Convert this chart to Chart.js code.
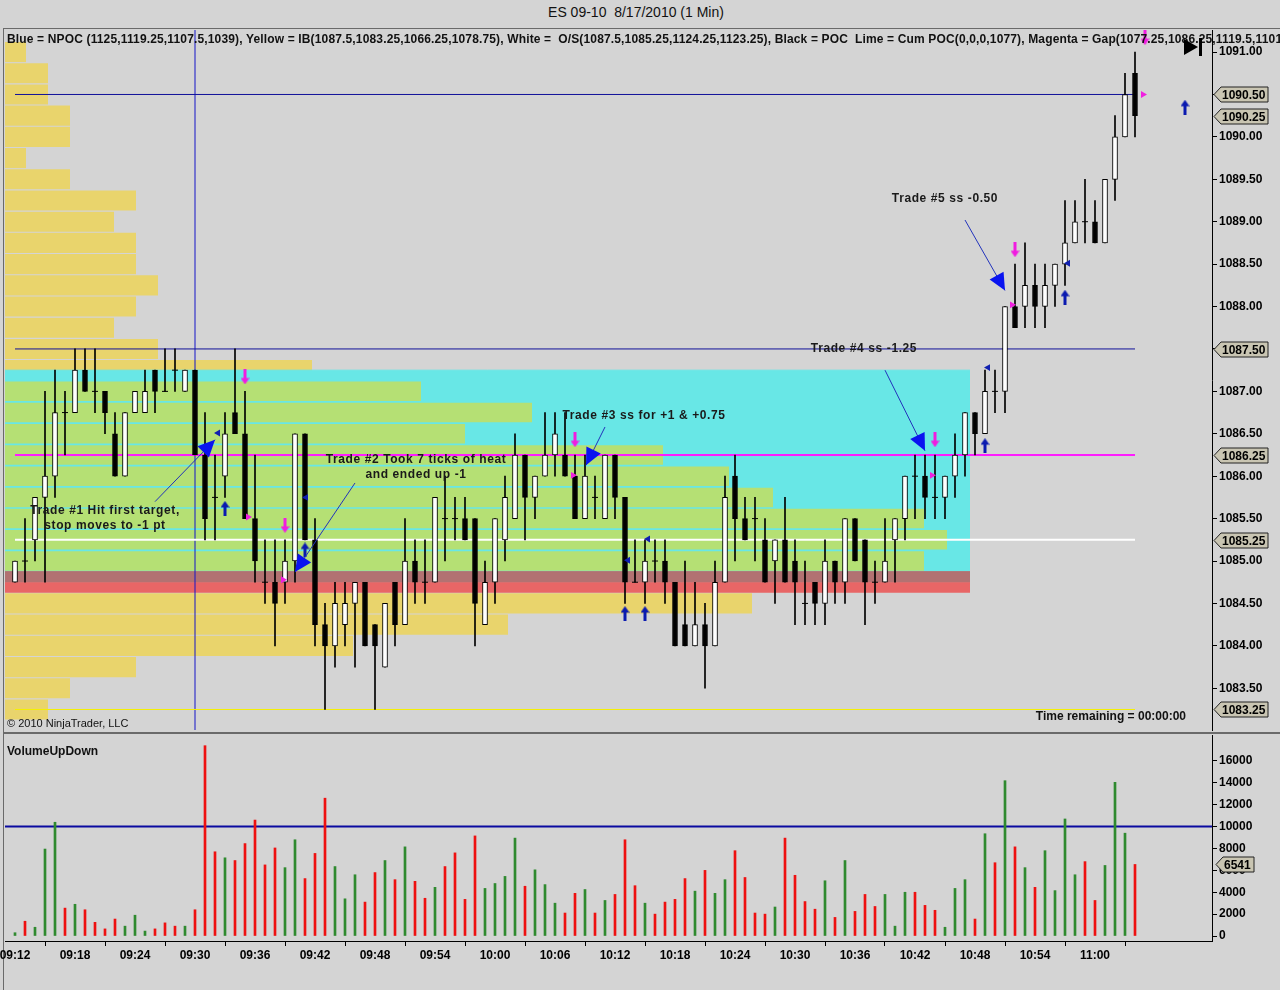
<!DOCTYPE html>
<html>
<head>
<meta charset="utf-8">
<title>ES 09-10 8/17/2010 (1 Min)</title>
<script src="https://cdn.jsdelivr.net/npm/chart.js@4.4.1/dist/chart.umd.min.js"></script>
<style>
  body { margin: 0; background: #d4d4d4; font-family: 'Liberation Sans', Arial, sans-serif; }
  #page { position: relative; width: 1280px; height: 990px; overflow: hidden; background: #d4d4d4; }
  #title { position: absolute; top: 4px; left: 0; width: 1272px; text-align: center; font-size: 14px; color: #111; white-space: pre; }
  .line { position: absolute; background: #6a6a6a; }
  #pricePanel { position: absolute; left: -10px; top: 15px; }
  #volumePanel { position: absolute; left: -10px; top: 720px; }
  #legendText { position: absolute; left: 7px; top: 33px; width: 1273px; overflow: hidden; white-space: pre; font-weight: bold; font-size: 12px; line-height: 13px; letter-spacing: 0.15px; color: #111; }
  #copyright { position: absolute; left: 7px; top: 717px; font-size: 11px; color: #111; }
  #timeLeft { position: absolute; right: 94px; top: 709px; font-size: 12px; font-weight: bold; color: #111; }
  #volTitle { position: absolute; left: 7px; top: 744px; font-size: 12px; font-weight: bold; color: #111; }
  #playIcon { position: absolute; left: 1184px; top: 39px; width: 0; height: 0; border-top: 8px solid transparent; border-bottom: 8px solid transparent; border-left: 14px solid #000; }
  #playBar { position: absolute; left: 1199px; top: 38px; width: 3px; height: 18px; background: #000; }
</style>
</head>
<body>
<div id="page">
  <div id="title">ES 09-10  8/17/2010 (1 Min)</div>
  <div class="line" style="left:4px;top:28px;width:1276px;height:1px;"></div>
  <div class="line" style="left:3px;top:28px;width:1px;height:962px;"></div>
  <div class="line" style="left:4px;top:732px;width:1276px;height:2px;"></div>
  <canvas id="pricePanel" width="1290" height="730"></canvas>
  <canvas id="volumePanel" width="1290" height="270"></canvas>
  <div id="legendText">Blue = NPOC (1125,1119.25,1107.5,1039), Yellow = IB(1087.5,1083.25,1066.25,1078.75), White =  O/S(1087.5,1085.25,1124.25,1123.25), Black = POC  Lime = Cum POC(0,0,0,1077), Magenta = Gap(1077.25,1086.25,1119.5,1101</div>
  <div id="playIcon"></div><div id="playBar"></div>
  <div id="copyright">© 2010 NinjaTrader, LLC</div>
  <div id="timeLeft">Time remaining = 00:00:00</div>
  <div id="volTitle">VolumeUpDown</div>
</div>
<script>
// 1 minute bars, 09:12 .. 11:04
const barOpen = [
  1084.75, 1085.0, 1085.25, 1085.75, 1086.0, 1086.75, 1086.75, 1087.25, 1087.0, 1087.0,
  1086.5, 1086.0, 1086.75, 1086.75, 1087.25, 1087.0, 1087.25, 1087.0, 1087.25, 1086.25,
  1085.75, 1086.0, 1086.75, 1086.5, 1085.5, 1084.75, 1084.75, 1084.75, 1085.0, 1086.5,
  1085.25, 1084.25, 1084.0, 1084.25, 1084.5, 1084.75, 1084.25, 1083.75, 1084.75, 1084.25,
  1085.0, 1084.75, 1084.75, 1085.5, 1085.5, 1085.5, 1085.5, 1084.25, 1084.75, 1085.25,
  1085.5, 1086.25, 1085.75, 1086.0, 1086.25, 1086.25, 1086.0, 1085.5, 1085.75, 1085.5,
  1086.25, 1085.75, 1084.75, 1084.75, 1085.0, 1085.0, 1084.75, 1084.25, 1084.0, 1084.25,
  1084.0, 1084.75, 1086.0, 1085.5, 1085.5, 1085.25, 1085.0, 1085.25, 1085.0, 1084.5,
  1084.75, 1084.5, 1085.0, 1084.75, 1085.5, 1085.25, 1084.75, 1084.75, 1085.25, 1085.5,
  1086.0, 1086.0, 1085.75, 1085.75, 1086.0, 1086.25, 1086.75, 1086.5, 1087.0, 1087.0,
  1088.0, 1088.0, 1088.25, 1088.0, 1088.25, 1088.5, 1088.75, 1089.0, 1089.0, 1088.75,
  1089.5, 1090.0, 1090.75
];
const barHigh = [
  1085.0, 1085.5, 1085.75, 1087.0, 1087.25, 1087.0, 1087.5, 1087.5, 1087.5, 1087.0,
  1086.75, 1086.75, 1087.0, 1087.25, 1087.25, 1087.5, 1087.5, 1087.25, 1087.25, 1086.75,
  1086.25, 1086.75, 1087.5, 1087.0, 1086.25, 1085.25, 1085.25, 1085.25, 1086.5, 1086.5,
  1085.5, 1084.5, 1084.75, 1084.75, 1084.75, 1084.75, 1084.25, 1084.5, 1084.75, 1085.5,
  1085.25, 1085.25, 1085.75, 1086.0, 1085.75, 1085.75, 1085.5, 1085.0, 1085.5, 1086.0,
  1086.5, 1086.25, 1086.0, 1086.75, 1086.75, 1086.75, 1086.25, 1086.25, 1086.0, 1086.25,
  1086.25, 1085.75, 1085.25, 1085.25, 1085.25, 1085.25, 1084.75, 1085.0, 1084.75, 1084.5,
  1085.0, 1086.0, 1086.25, 1085.75, 1085.75, 1085.5, 1085.25, 1085.75, 1085.25, 1085.0,
  1084.75, 1085.25, 1085.0, 1085.5, 1085.5, 1085.25, 1085.0, 1085.5, 1085.5, 1086.0,
  1086.25, 1086.25, 1086.25, 1086.0, 1086.5, 1086.75, 1086.75, 1087.25, 1087.25, 1088.0,
  1088.5, 1088.75, 1088.5, 1088.5, 1088.5, 1089.25, 1089.25, 1089.5, 1089.25, 1089.5,
  1090.25, 1090.75, 1091.0
];
const barLow = [
  1084.75, 1084.75, 1085.0, 1084.75, 1085.75, 1086.25, 1086.75, 1087.0, 1086.75, 1086.5,
  1086.0, 1086.0, 1086.75, 1086.75, 1086.75, 1087.0, 1087.0, 1087.0, 1086.25, 1085.25,
  1085.25, 1085.75, 1086.5, 1085.5, 1084.75, 1084.5, 1084.0, 1084.5, 1084.75, 1085.25,
  1084.0, 1083.25, 1083.75, 1084.0, 1083.75, 1084.0, 1083.25, 1083.75, 1084.0, 1084.25,
  1084.5, 1084.5, 1084.75, 1085.0, 1085.25, 1085.25, 1084.0, 1084.25, 1084.5, 1085.0,
  1085.5, 1085.25, 1085.5, 1086.0, 1086.0, 1086.0, 1085.5, 1085.5, 1085.5, 1085.5,
  1085.5, 1084.5, 1084.75, 1084.5, 1084.75, 1084.5, 1084.0, 1084.0, 1084.0, 1083.5,
  1084.0, 1084.75, 1085.0, 1085.25, 1085.0, 1084.75, 1084.5, 1084.75, 1084.25, 1084.25,
  1084.25, 1084.25, 1084.5, 1084.5, 1085.0, 1084.25, 1084.5, 1084.75, 1084.75, 1085.25,
  1085.5, 1085.5, 1085.5, 1085.5, 1085.75, 1086.0, 1086.25, 1086.5, 1086.75, 1086.75,
  1087.75, 1087.75, 1087.75, 1087.75, 1088.0, 1088.25, 1088.75, 1088.75, 1088.75, 1088.75,
  1089.25, 1090.0, 1090.0
];
const barClose = [
  1085.0, 1085.0, 1085.75, 1086.0, 1086.75, 1086.75, 1087.25, 1087.0, 1087.0, 1086.75,
  1086.0, 1086.75, 1087.0, 1087.0, 1087.0, 1087.0, 1087.25, 1087.25, 1086.25, 1085.5,
  1085.75, 1086.5, 1086.5, 1085.5, 1085.0, 1084.75, 1084.5, 1085.0, 1086.5, 1085.25,
  1084.25, 1084.0, 1084.5, 1084.5, 1084.75, 1084.0, 1084.0, 1084.5, 1084.25, 1085.0,
  1084.75, 1084.75, 1085.75, 1085.5, 1085.5, 1085.25, 1084.5, 1084.75, 1085.5, 1085.75,
  1086.25, 1085.75, 1086.0, 1086.25, 1086.5, 1086.0, 1085.5, 1086.0, 1085.75, 1086.25,
  1085.75, 1084.75, 1084.75, 1085.0, 1085.0, 1084.75, 1084.0, 1084.0, 1084.25, 1084.0,
  1084.75, 1085.75, 1085.5, 1085.25, 1085.5, 1084.75, 1085.25, 1084.75, 1084.75, 1084.5,
  1084.5, 1085.0, 1084.75, 1085.5, 1085.0, 1084.75, 1084.75, 1085.0, 1085.5, 1086.0,
  1086.0, 1085.75, 1085.75, 1086.0, 1086.25, 1086.75, 1086.5, 1087.0, 1087.0, 1088.0,
  1087.75, 1088.25, 1088.0, 1088.25, 1088.5, 1088.75, 1089.0, 1089.0, 1088.75, 1089.5,
  1090.0, 1090.5, 1090.25
];
const barVolume = [
  300, 1350, 800, 7950, 10400, 2550, 2900, 2400, 1250, 650,
  1550, 900, 1900, 450, 650, 1200, 900, 900, 2400, 17400,
  7700, 7150, 6900, 8450, 10600, 6500, 8050, 6250, 8800, 5250,
  7550, 12600, 6350, 3400, 5600, 3100, 5800, 6900, 5150, 8150,
  5000, 3450, 4450, 6350, 7600, 3350, 9150, 4350, 4800, 5450,
  8950, 4550, 6050, 4700, 3000, 2100, 3900, 4250, 2100, 3250,
  3800, 8800, 4600, 3000, 2000, 3100, 3350, 5250, 4100, 6000,
  3900, 5150, 7800, 5350, 2100, 2000, 2650, 8950, 5550, 3150,
  2450, 5050, 1700, 6900, 2250, 3800, 2700, 3800, 900, 4000,
  4000, 2800, 2350, 800, 4350, 5150, 1550, 9350, 6700, 14200,
  8150, 6250, 4450, 7800, 4150, 10700, 5600, 6800, 3250, 6450,
  14050, 9400, 6541
];

const xTickBars = [0, 6, 12, 18, 24, 30, 36, 42, 48, 54, 60, 66, 72, 78, 84, 90, 96, 102, 108];
const xTickLabels = ['09:12', '09:18', '09:24', '09:30', '09:36', '09:42', '09:48', '09:54', '10:00', '10:06',
  '10:12', '10:18', '10:24', '10:30', '10:36', '10:42', '10:48', '10:54', '11:00'];
const priceTicks = [1083.5, 1084, 1084.5, 1085, 1085.5, 1086, 1086.5, 1087, 1087.5, 1088, 1088.5, 1089, 1089.5, 1090, 1090.5, 1091];
const volumeTicks = [0, 2000, 4000, 6000, 8000, 10000, 12000, 14000, 16000];

// volume profile rows (left histogram)
const yellowLevels = [1091, 1090.75, 1090.5, 1090.25, 1090, 1089.75, 1089.5, 1089.25, 1089, 1088.75, 1088.5,
  1088.25, 1088, 1087.75, 1087.5, 1087.25, 1084.5, 1084.25, 1084, 1083.75, 1083.5, 1083.25];
const yellowVolume = [21, 43, 43, 65, 65, 21, 65, 131, 109, 131, 131, 153, 131, 109, 153, 307, 747, 503, 348, 131, 65, 43];
const limeLevels = [1087, 1086.75, 1086.5, 1086.25, 1086, 1085.75, 1085.5, 1085.25, 1085];
const limeVolume = [416, 527, 460, 658, 724, 768, 919, 942, 919];

// shaded zones: [fromBar, toBar, topPrice, bottomPrice]
const valueZone = [-1, 95.5, 1087.25, 1084.875];
const gapZoneUpper = [-1, 95.5, 1084.875, 1084.75];
const gapZoneLower = [-1, 95.5, 1084.75, 1084.625];

// horizontal levels: NPOC, IB high, gap, O/S, IB low
const levelPrices = [1090.5, 1087.5, 1086.25, 1085.25, 1083.25];
const sessionOpenBar = 18;
const volumeLevel = 10000;

// trade markers
const buyArrowBars = [21, 29, 61, 63, 97, 105, 117];
const buyArrowPrices = [1085.62, 1085.13, 1084.38, 1084.38, 1086.36, 1088.11, 1090.35];
const sellArrowBars = [23, 27, 56, 92, 100, 113];
const sellArrowPrices = [1087.17, 1085.42, 1086.43, 1086.43, 1088.67, 1091.17];
const stopMarkBars = [20.3, 29.1, 61.3, 63.3, 97.3, 105.3];
const stopMarkPrices = [1086.51, 1085.75, 1085.01, 1085.26, 1087.28, 1088.51];
const exitMarkBars = [23.3, 26.8, 55.8, 91.7, 99.7, 112.8];
const exitMarkPrices = [1085.52, 1084.78, 1086.01, 1086.01, 1088.02, 1090.5];

// trade notes: text centre, arrow start, arrow tip as [bar, price]
const noteLines = [
  ['Trade #1 Hit first target,', 'stop moves to -1 pt'],
  ['Trade #2 Took 7 ticks of heat', 'and ended up -1'],
  ['Trade #3 ss for +1 & +0.75'],
  ['Trade #4 ss -1.25'],
  ['Trade #5 ss -0.50']
];
const noteAt = [[9, 1085.59], [40.1, 1086.19], [62.9, 1086.71], [84.9, 1087.5], [93, 1089.27]];
const noteArrowFrom = [[14, 1085.70], [34, 1085.92], [59, 1086.58], [87, 1087.25], [95, 1089.02]];
const noteArrowTo = [[20, 1086.43], [28, 1084.87], [57.1, 1086.13], [91, 1086.30], [99, 1088.19]];

Chart.defaults.font.family = "'Liberation Sans', Arial, sans-serif";
Chart.defaults.font.size = 12;
Chart.defaults.color = '#000';

const priceMin = 1083.008, priceMax = 1091.26;
const barMin = -1, barMax = 119.7;
const lastBar = barOpen.length - 1;
const isUp = i => barClose[i] > barOpen[i];

function arrowGlyph(color, up) {
  const c = document.createElement('canvas');
  c.width = 9; c.height = 15;
  const g = c.getContext('2d');
  g.fillStyle = color;
  if (!up) { g.translate(0, 15); g.scale(1, -1); }
  g.beginPath(); g.moveTo(4.5, 0); g.lineTo(9, 6.5); g.lineTo(0, 6.5); g.closePath(); g.fill();
  g.fillRect(3, 6, 3, 9);
  return c;
}

function drawTag(ctx, left, py, w, text) {
  ctx.beginPath();
  ctx.moveTo(left + 1, py);
  ctx.lineTo(left + 8, py - 7.5);
  ctx.lineTo(left + w, py - 7.5);
  ctx.lineTo(left + w, py + 7.5);
  ctx.lineTo(left + 8, py + 7.5);
  ctx.closePath();
  ctx.fillStyle = '#c9c5b2';
  ctx.fill();
  ctx.strokeStyle = '#222';
  ctx.lineWidth = 1;
  ctx.stroke();
  ctx.fillStyle = '#000';
  ctx.font = "bold 12px 'Liberation Sans', Arial";
  ctx.textAlign = 'left';
  ctx.textBaseline = 'middle';
  ctx.fillText(text, left + 9, py + 1);
}

function zoneDataset(zone, color, order) {
  return {
    type: 'line', order: order,
    data: [{ x: zone[0], y: zone[2] }, { x: zone[1], y: zone[2] }],
    fill: { value: zone[3] }, backgroundColor: color, borderColor: color, borderWidth: 1, pointRadius: 0
  };
}

function levelDataset(price, color, width) {
  return {
    type: 'line', order: 15,
    data: [{ x: 0, y: price }, { x: lastBar, y: price }],
    borderColor: color, borderWidth: width, pointRadius: 0, fill: false
  };
}

const noFit = w => scale => { scale.width = w; scale.paddingTop = 0; scale.paddingBottom = 0; };

const tradeNotes = {
  id: 'tradeNotes',
  afterDatasetsDraw(chart) {
    const { ctx, scales: { x, y } } = chart;
    ctx.save();
    noteArrowFrom.forEach((from, k) => {
      const x1 = x.getPixelForValue(from[0]), y1 = y.getPixelForValue(from[1]);
      const x2 = x.getPixelForValue(noteArrowTo[k][0]), y2 = y.getPixelForValue(noteArrowTo[k][1]);
      ctx.strokeStyle = '#2233bb';
      ctx.lineWidth = 1;
      ctx.beginPath(); ctx.moveTo(x1, y1); ctx.lineTo(x2, y2); ctx.stroke();
      const a = Math.atan2(y2 - y1, x2 - x1);
      const bx = x2 - Math.cos(a) * 17, by = y2 - Math.sin(a) * 17;
      ctx.fillStyle = '#0a14f0';
      ctx.beginPath();
      ctx.moveTo(x2, y2);
      ctx.lineTo(bx - Math.sin(a) * 8, by + Math.cos(a) * 8);
      ctx.lineTo(bx + Math.sin(a) * 8, by - Math.cos(a) * 8);
      ctx.closePath(); ctx.fill();
    });
    ctx.font = "bold 12px 'Liberation Sans', Arial";
    ctx.letterSpacing = '0.6px';
    ctx.fillStyle = '#1a1a1a';
    ctx.textAlign = 'center';
    ctx.textBaseline = 'middle';
    noteLines.forEach((lines, k) => {
      const cx = x.getPixelForValue(noteAt[k][0]), cy = y.getPixelForValue(noteAt[k][1]);
      lines.forEach((t, j) => ctx.fillText(t, cx, cy + j * 15));
    });
    ctx.restore();
  },
  afterDraw(chart) {
    const { ctx, scales: { y } } = chart;
    ctx.save();
    [levelPrices[0], barClose[lastBar], levelPrices[1], levelPrices[2], levelPrices[3], levelPrices[4]]
      .forEach(v => drawTag(ctx, y.left + 1, Math.round(y.getPixelForValue(v)) + 0.5, 55, v.toFixed(2)));
    ctx.restore();
  }
};

const volumeTag = {
  id: 'volumeTag',
  afterDraw(chart) {
    const { ctx, scales: { y } } = chart;
    ctx.save();
    const v = barVolume[lastBar];
    drawTag(ctx, y.left + 3, Math.round(y.getPixelForValue(v)) + 0.5, 39, String(v));
    ctx.restore();
  }
};

new Chart(document.getElementById('pricePanel'), {
  type: 'scatter',
  data: {
    datasets: [
      {
        type: 'bar', indexAxis: 'y', xAxisID: 'xp', yAxisID: 'yp', order: 20, grouped: false,
        data: yellowLevels.map((p, k) => ({ x: yellowVolume[k], y: p })),
        backgroundColor: '#e9d46c', barPercentage: 0.95, categoryPercentage: 1
      },
      zoneDataset(valueZone, '#68e7e6', 19),
      {
        type: 'bar', indexAxis: 'y', xAxisID: 'xp', yAxisID: 'yp', order: 18, grouped: false,
        data: limeLevels.map((p, k) => ({ x: limeVolume[k], y: p })),
        backgroundColor: '#b5e074', barPercentage: 0.92, categoryPercentage: 1
      },
      zoneDataset(gapZoneUpper, '#b27272', 17),
      zoneDataset(gapZoneLower, '#e86666', 17),
      levelDataset(levelPrices[0], '#10109a', 1),
      levelDataset(levelPrices[1], '#10109a', 1),
      levelDataset(levelPrices[2], '#ff1cff', 2),
      levelDataset(levelPrices[3], '#ffffff', 2),
      levelDataset(levelPrices[4], '#f5f000', 1),
      {
        type: 'line', order: 15,
        data: [{ x: sessionOpenBar, y: priceMin }, { x: sessionOpenBar, y: priceMax }],
        borderColor: '#1515c8', borderWidth: 1, pointRadius: 0, fill: false
      },
      {
        type: 'bar', order: 12, grouped: false,
        data: barHigh.map((h, i) => ({ x: i, y: [barLow[i], h] })),
        backgroundColor: '#000', barThickness: 1
      },
      {
        type: 'bar', order: 11, grouped: false,
        data: barOpen.map((o, i) => ({ x: i, y: o === barClose[i] ? null : [o, barClose[i]] })),
        backgroundColor: ctx => isUp(ctx.dataIndex) ? '#ffffff' : '#000000',
        borderColor: '#000', borderWidth: 1, borderSkipped: false, barThickness: 5
      },
      {
        type: 'scatter', order: 11,
        data: barOpen.map((o, i) => o === barClose[i] ? { x: i, y: o } : null).filter(d => d),
        pointStyle: 'line', pointRadius: 3, borderColor: '#000', borderWidth: 1
      },
      {
        type: 'scatter', order: 5,
        data: buyArrowBars.map((b, k) => ({ x: b, y: buyArrowPrices[k] })),
        pointStyle: arrowGlyph('#0a1ab0', true), pointRadius: 7
      },
      {
        type: 'scatter', order: 5,
        data: sellArrowBars.map((b, k) => ({ x: b, y: sellArrowPrices[k] })),
        pointStyle: arrowGlyph('#f01ce0', false), pointRadius: 7
      },
      {
        type: 'scatter', order: 5,
        data: stopMarkBars.map((b, k) => ({ x: b, y: stopMarkPrices[k] })),
        pointStyle: 'triangle', rotation: -90, pointRadius: 4, backgroundColor: '#1020b0', borderWidth: 0
      },
      {
        type: 'scatter', order: 5,
        data: exitMarkBars.map((b, k) => ({ x: b, y: exitMarkPrices[k] })),
        pointStyle: 'triangle', rotation: 90, pointRadius: 4, backgroundColor: '#f020e0', borderWidth: 0
      }
    ]
  },
  options: {
    responsive: false, animation: false, events: [],
    layout: { padding: { left: 15, right: 0, top: 15, bottom: 15 } },
    plugins: { legend: { display: false }, tooltip: { enabled: false } },
    scales: {
      x: { type: 'linear', min: barMin, max: barMax, offset: false, display: false },
      xp: { type: 'linear', axis: 'x', min: 0, max: 1207, offset: false, display: false },
      yp: {
        type: 'linear', axis: 'y', min: priceMin, max: priceMax, offset: false, display: false,
        afterBuildTicks: s => { s.ticks = priceTicks.map(v => ({ value: v })); }
      },
      y: {
        type: 'linear', position: 'right', min: priceMin, max: priceMax, offset: false,
        afterBuildTicks: s => { s.ticks = priceTicks.map(v => ({ value: v })); },
        afterFit: noFit(68),
        ticks: { callback: v => v.toFixed(2), font: { weight: 'bold', size: 12 }, color: '#000', padding: 2 },
        grid: { drawOnChartArea: false, tickLength: 5, color: '#000' },
        border: { display: true, color: '#000' }
      }
    }
  },
  plugins: [tradeNotes]
});

new Chart(document.getElementById('volumePanel'), {
  type: 'scatter',
  data: {
    datasets: [
      {
        type: 'line', order: 2,
        data: [{ x: barMin, y: volumeLevel }, { x: barMax, y: volumeLevel }],
        borderColor: '#0a0aa0', borderWidth: 2, pointRadius: 0, fill: false
      },
      {
        type: 'bar', order: 1, grouped: false,
        data: barVolume.map((v, i) => ({ x: i, y: v })),
        backgroundColor: barVolume.map((v, i) => isUp(i) ? '#2f8a2f' : '#ee1010'),
        barThickness: 2
      }
    ]
  },
  options: {
    responsive: false, animation: false, events: [],
    layout: { padding: { left: 15, right: 0, top: 15, bottom: 20 } },
    plugins: { legend: { display: false }, tooltip: { enabled: false } },
    scales: {
      x: {
        type: 'linear', min: barMin, max: barMax, offset: false,
        afterBuildTicks: s => { s.ticks = xTickBars.map(v => ({ value: v })); },
        afterFit: s => { s.height = 29; s.paddingLeft = 0; s.paddingRight = 0; },
        ticks: {
          callback: v => xTickLabels[xTickBars.indexOf(v)], autoSkip: false, maxRotation: 0,
          font: { weight: 'bold', size: 12 }, color: '#000', padding: 2
        },
        grid: { drawOnChartArea: false, tickLength: 5, color: '#000' },
        border: { display: true, color: '#000' }
      },
      y: {
        type: 'linear', position: 'right', min: -457, max: 18377, offset: false,
        afterBuildTicks: s => { s.ticks = volumeTicks.map(v => ({ value: v })); },
        afterFit: noFit(68),
        ticks: { callback: v => String(v), font: { weight: 'bold', size: 12 }, color: '#000', padding: 2 },
        grid: { drawOnChartArea: false, tickLength: 5, color: '#000' },
        border: { display: true, color: '#000' }
      }
    }
  },
  plugins: [volumeTag]
});
</script>
</body>
</html>
